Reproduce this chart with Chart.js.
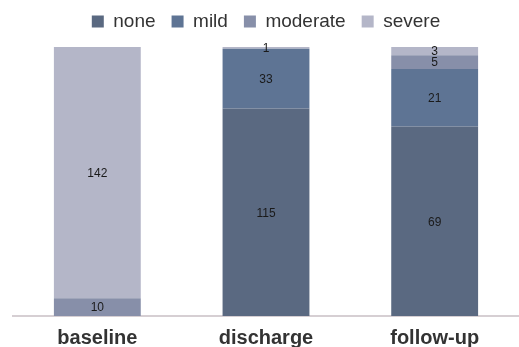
<!DOCTYPE html>
<html>
<head>
<meta charset="utf-8">
<script src="https://cdn.jsdelivr.net/npm/chart.js@4"></script>
<style>
  html, body { margin: 0; padding: 0; background: #fff; }
  #wrap { width: 519px; height: 347px; }
</style>
</head>
<body>
<div id="wrap"><canvas id="myChart"></canvas></div>
<script>
// kategorie i liczby pacjentów w każdej grupie
const categories = ['baseline', 'discharge', 'follow-up'];
const none = [0, 115, 69];
const mild = [0, 33, 21];
const moderate = [10, 0, 5];
const severe = [142, 1, 3];

const seriesNames = ['none', 'mild', 'moderate', 'severe'];
const seriesCounts = [none, mild, moderate, severe];
const colors = ['#5a6981', '#5e7494', '#878fa9', '#b4b6c8'];

// sumy w każdej kolumnie, słupki są 100%
const totals = categories.map((c, i) => seriesCounts.reduce((t, s) => t + s[i], 0));

const datasets = seriesNames.map((name, k) => ({
    label: name,
    counts: seriesCounts[k],
    data: seriesCounts[k].map((v, i) => v / totals[i] * 100),
    backgroundColor: colors[k],
    borderWidth: 0,
    barPercentage: 0.515,
    categoryPercentage: 1
}));

// liczby wpisane w środek segmentów
const segmentLabels = {
    id: 'segmentLabels',
    afterDatasetsDraw(chart) {
        const ctx = chart.ctx;
        ctx.save();
        ctx.font = '12px "Liberation Sans", Arial, sans-serif';
        ctx.fillStyle = '#1a1a1a';
        ctx.textAlign = 'center';
        ctx.textBaseline = 'middle';
        chart.data.datasets.forEach((ds, k) => {
            chart.getDatasetMeta(k).data.forEach((bar, i) => {
                const v = ds.counts[i];
                if (!v) return;
                const y = (bar.y + bar.base) / 2;
                ctx.fillText(String(v), bar.x, y + 1);
            });
        });
        ctx.restore();
    }
};

// trochę więcej miejsca pod legendą
const legendGap = {
    id: 'legendGap',
    beforeInit(chart) {
        const fit = chart.legend.fit;
        chart.legend.fit = function() {
            fit.bind(chart.legend)();
            this.height += 6;
        };
    }
};

const ctx = document.getElementById('myChart').getContext('2d');
new Chart(ctx, {
    type: 'bar',
    data: { labels: categories, datasets: datasets },
    options: {
        responsive: true,
        maintainAspectRatio: false,
        animation: false,
        layout: { padding: { left: 13, right: 0, top: -4, bottom: -13 } },
        plugins: {
            legend: {
                position: 'top',
                labels: {
                    font: { size: 19, family: '"Liberation Sans", Arial, sans-serif' },
                    color: '#333',
                    boxWidth: 12,
                    boxHeight: 12,
                    padding: 16
                }
            },
            tooltip: { enabled: false }
        },
        scales: {
            x: {
                stacked: true,
                grid: { display: false, drawTicks: false },
                border: { color: '#d6cfd3', width: 2 },
                ticks: {
                    color: '#333',
                    padding: 10,
                    font: { size: 20, weight: 'bold', family: '"Liberation Sans", Arial, sans-serif' }
                }
            },
            y: {
                stacked: true,
                display: false,
                min: 0,
                max: 100
            }
        }
    },
    plugins: [segmentLabels, legendGap]
});
</script>
</body>
</html>
